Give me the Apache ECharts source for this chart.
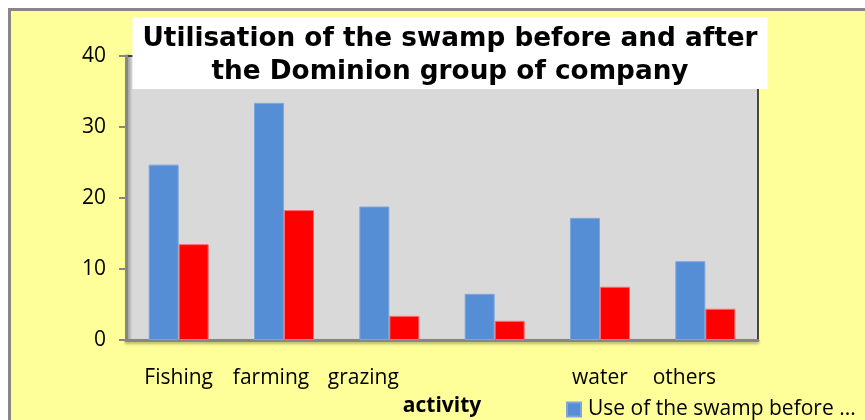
<!DOCTYPE html>
<html>
<head>
<meta charset="utf-8">
<script src="https://cdn.jsdelivr.net/npm/echarts@6/dist/echarts.min.js"></script>
<style>
  html, body { margin: 0; padding: 0; background: #fff; }
  #chart { width: 865px; height: 420px; }
</style>
</head>
<body>
<div id="chart"></div>
<script>
const categories = ['Fishing', 'farming', 'grazing', '', 'water', 'others'];
const beforeValues = [24.7, 33.4, 18.8, 6.5, 17.2, 11.1];
const afterValues = [13.5, 18.3, 3.4, 2.7, 7.5, 4.4];
const seriesNames = ['Use of the swamp before the Dominion group', 'Use of the swamp after the Dominion group'];
const yTicks = [0, 10, 20, 30, 40];

// excel drew some category labels a little left of their bars
const labelShift = { farming: 13, grazing: 26, others: 21 };

const chart = echarts.init(document.getElementById('chart'));

const option = {
  backgroundColor: '#fff',
  animation: false,
  graphic: {
    elements: [{
      type: 'rect',
      z: -100,
      silent: true,
      shape: { x: 9.5, y: 9.5, width: 900, height: 450 },
      style: { fill: '#FFFF99', stroke: '#878787', lineWidth: 3 }
    }]
  },
  title: {
    text: 'Utilisation of the swamp before and after\nthe Dominion group of company',
    left: 440,
    top: 17,
    textAlign: 'center',
    backgroundColor: '#fff',
    padding: [6, 10, 0, 10],
    textStyle: {
      fontFamily: 'DejaVu Sans',
      fontWeight: 'bold',
      fontSize: 26.3,
      lineHeight: 33,
      color: '#000'
    }
  },
  grid: {
    left: 126,
    right: 107,
    top: 56,
    bottom: 80,
    outerBoundsMode: 'none',
    show: true,
    backgroundColor: '#D9D9D9',
    borderColor: '#111',
    borderWidth: 1.5
  },
  legend: {
    left: 561,
    top: 394,
    icon: 'rect',
    itemWidth: 14,
    itemHeight: 14,
    itemGap: 30,
    data: seriesNames,
    formatter: name => name.slice(0, 23) + ' ...',
    textStyle: {
      fontFamily: 'Open Sans',
      fontSize: 21,
      color: '#000',
      padding: [0, 0, 0, 2]
    }
  },
  xAxis: {
    type: 'category',
    data: categories,
    name: 'activity',
    nameLocation: 'middle',
    nameGap: 56,
    nameTextStyle: {
      fontFamily: 'Open Sans',
      fontWeight: 'bold',
      fontSize: 21,
      color: '#000'
    },
    axisLine: {
      lineStyle: {
        color: '#868686',
        width: 3,
        shadowColor: 'rgba(0,0,0,0.3)',
        shadowBlur: 3,
        shadowOffsetY: 2
      }
    },
    axisTick: { show: false },
    axisLabel: {
      margin: 28,
      interval: 0,
      formatter: v => v ? '{l' + (labelShift[v] || 0) + '|' + v + '}' : '',
      rich: Object.fromEntries([0, 13, 21, 26].map(s => ['l' + s, {
        fontFamily: 'Open Sans',
        fontSize: 21,
        color: '#000',
        padding: [0, s * 2, 0, 0]
      }]))
    },
    splitLine: { show: false }
  },
  yAxis: {
    type: 'value',
    min: yTicks[0],
    max: yTicks[yTicks.length - 1],
    interval: 10,
    axisLine: {
      show: true,
      lineStyle: {
        color: '#868686',
        width: 3,
        shadowColor: 'rgba(0,0,0,0.3)',
        shadowBlur: 3,
        shadowOffsetX: 2
      }
    },
    axisTick: {
      show: true,
      length: 7,
      lineStyle: { color: '#868686', width: 2 }
    },
    axisLabel: {
      margin: 20,
      fontFamily: 'Open Sans',
      fontSize: 21,
      color: '#000'
    },
    splitLine: { show: false }
  },
  series: [
    {
      name: seriesNames[0],
      type: 'bar',
      data: beforeValues,
      barWidth: 30,
      barGap: '0%',
      itemStyle: {
        color: '#558ED5',
        borderColor: '#7DA6DE',
        borderWidth: 1
      }
    },
    {
      name: seriesNames[1],
      type: 'bar',
      data: afterValues,
      barWidth: 30,
      itemStyle: {
        color: '#FF0000',
        borderColor: '#FF6B6B',
        borderWidth: 1
      }
    }
  ]
};

chart.setOption(option);
</script>
</body>
</html>
